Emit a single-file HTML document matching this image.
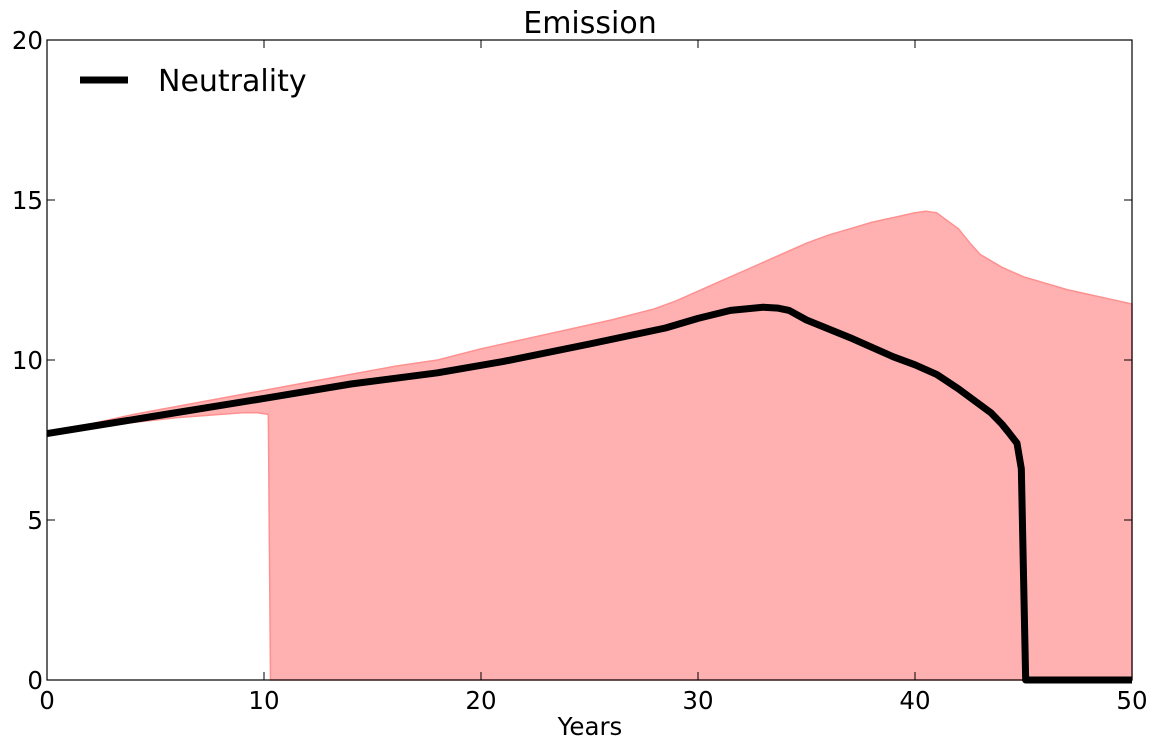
<!DOCTYPE html>
<html><head><meta charset="utf-8"><style>
body{margin:0;background:#fff;}
svg text{font-family:"DejaVu Sans",sans-serif;}
</style></head><body>
<svg id="c" width="1158" height="750"></svg>
<script>
const upperX=[0,2,4,6,8,10,12,14,16,18,20,22,24,26,28,29,30,31,32,33,34,35,36,37,38,39,40,40.5,41,41.5,42,42.3,42.6,43,43.5,44,44.5,45,45.5,46,46.5,47,48,49,50];
const upperY=[7.7,8.0,8.3,8.55,8.8,9.05,9.3,9.55,9.8,10.0,10.35,10.65,10.95,11.25,11.6,11.85,12.15,12.45,12.75,13.05,13.35,13.65,13.9,14.1,14.3,14.45,14.6,14.65,14.6,14.35,14.1,13.85,13.6,13.3,13.1,12.9,12.75,12.6,12.5,12.4,12.3,12.2,12.05,11.9,11.75];
const lowerX=[0,2,4,6,8,9,9.7,10.2,10.3,50];
const lowerY=[7.7,7.9,8.05,8.2,8.3,8.35,8.35,8.3,0,0];
const lineX=[0,5,10,14,18,21,25,28.5,30,31.5,33,33.7,34.2,35,37,38,39,40,41,42,43,43.5,44,44.3,44.7,44.9,45.1,50];
const lineY=[7.7,8.25,8.8,9.25,9.6,9.95,10.5,11.0,11.3,11.55,11.65,11.62,11.55,11.25,10.7,10.4,10.1,9.85,9.55,9.1,8.6,8.35,8.0,7.75,7.4,6.6,0,0];
const xTicks=[0,10,20,30,40,50], yTicks=[0,5,10,15,20];
const L=47,R=1132,T=40,B=680;
const sx=v=>L+(v/50)*(R-L), sy=v=>B-(v/20)*(B-T);
const svg=document.getElementById('c'), NS='http://www.w3.org/2000/svg';
function mk(t,a,txt){const e=document.createElementNS(NS,t);for(const k in a)e.setAttribute(k,a[k]);if(txt!==undefined)e.textContent=txt;svg.appendChild(e);return e;}
let d='';
upperX.forEach((x,i)=>d+=(i?'L':'M')+sx(x)+','+sy(upperY[i]));
for(let i=lowerX.length-1;i>=0;i--)d+='L'+sx(lowerX[i])+','+sy(lowerY[i]);
d+='Z';
const band=mk('path',{d:d,fill:'#ffb1b1',stroke:'#ff9090','stroke-width':1.5});


let ld='';
lineX.forEach((x,i)=>ld+=(i?'L':'M')+sx(x)+','+sy(lineY[i]));
const line=mk('path',{d:ld,fill:'none',stroke:'#000','stroke-width':7,'stroke-linejoin':'round'});


const frame=mk('rect',{x:L,y:T,width:R-L,height:B-T,fill:'none',stroke:'#000','stroke-width':1.2});


xTicks.forEach(v=>{
  mk('line',{x1:sx(v),x2:sx(v),y1:B,y2:B-8,stroke:'#000'});
  mk('line',{x1:sx(v),x2:sx(v),y1:T,y2:T+8,stroke:'#000'});
  const t=mk('text',{x:sx(v),y:B+29,'font-size':24.5,'text-anchor':'middle'},v);
  
  
});
yTicks.forEach(v=>{
  mk('line',{x1:L,x2:L+8,y1:sy(v),y2:sy(v),stroke:'#000'});
  mk('line',{x1:R,x2:R-8,y1:sy(v),y2:sy(v),stroke:'#000'});
  const t=mk('text',{x:L-4,y:sy(v)+9,'font-size':24.5,'text-anchor':'end'},v);
  
  
});
</script>
<svg width="1158" height="750" style="position:absolute;left:0;top:0">
<text x="590" y="33" font-size="30" text-anchor="middle" font-family="DejaVu Sans, sans-serif">Emission</text>
<text x="590" y="735" font-size="24.5" text-anchor="middle" font-family="DejaVu Sans, sans-serif">Years</text>
<line x1="80" y1="80" x2="128" y2="80" stroke="#000" stroke-width="7"/>
<text x="158" y="91" font-size="30" font-family="DejaVu Sans, sans-serif">Neutrality</text>
</svg>
</body></html>
